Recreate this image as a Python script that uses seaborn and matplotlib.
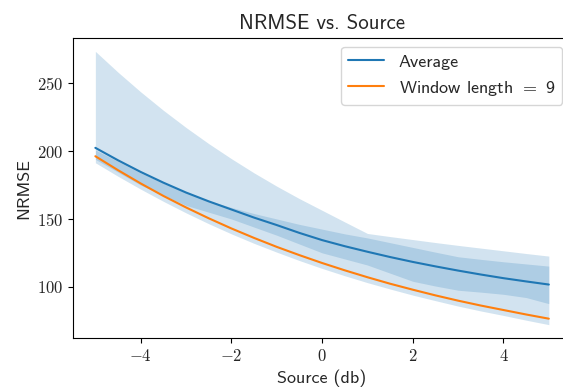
import matplotlib
matplotlib.use("Agg")
import matplotlib.pyplot as plt
import seaborn as sns
import pandas as pd
from matplotlib.ticker import FuncFormatter

# ---- data ----
source_db = [-5, -4.5, -4, -3.5, -3, -2.5, -2, -1.5, -1, -0.5, 0,
             0.5, 1, 1.5, 2, 2.5, 3, 3.5, 4, 4.5, 5]
average = [202.5, 193.3, 184.7, 176.8, 169.5, 163.0, 157.0, 151.0, 145.5, 139.7, 134.4,
           129.9, 125.8, 121.9, 118.3, 115.0, 111.9, 109.0, 106.3, 103.9, 101.6]
window9 = [196.3, 186.0, 176.2, 167.0, 158.5, 150.5, 143.0, 136.0, 129.4, 123.3, 117.5,
           112.1, 107.0, 102.2, 97.8, 93.6, 89.7, 86.1, 82.8, 79.5, 76.4]
outer_hi = [273.7, 258.3, 243.8, 230.2, 217.5, 205.6, 194.5, 184.0, 174.2, 165.0, 156.4,
            147.8, 139.3, 137.0, 134.8, 132.6, 130.5, 128.5, 126.5, 124.5, 122.6]
outer_lo = [191.5, 181.5, 172.0, 163.0, 154.5, 146.5, 139.0, 132.0, 125.5, 119.3, 113.5,
            108.1, 103.0, 98.3, 93.8, 89.7, 85.7, 82.1, 78.8, 75.3, 72.0]
inner_hi = [201.0, 192.5, 184.0, 176.5, 169.5, 163.5, 158.5, 154.0, 150.0, 146.0, 142.5,
            139.0, 136.0, 132.5, 129.0, 125.5, 122.1, 120.2, 118.4, 116.8, 115.2]
inner_lo = [194.0, 184.5, 175.0, 167.5, 160.0, 155.0, 150.0, 144.0, 138.0, 131.5, 125.0,
            120.5, 116.0, 110.0, 104.0, 100.5, 97.4, 96.0, 94.4, 92.0, 87.5]
series_labels = ["Average", r"Window length $=$ 9"]

sns.set_style("ticks")
plt.rcParams["font.family"] = ["cmss10", "DejaVu Sans"]
plt.rcParams["mathtext.fontset"] = "cm"
plt.rcParams["axes.unicode_minus"] = True

fig = plt.figure(figsize=(5.63, 3.87), dpi=100)
ax = fig.add_axes([0.1291, 0.1258, 0.886, 0.7768])

blue = "#1f77b4"
orange = "#ff7f0e"

ax.fill_between(source_db, outer_lo, outer_hi, color=blue, alpha=0.2, linewidth=0)
ax.fill_between(source_db, inner_lo, inner_hi, color=blue, alpha=0.2, linewidth=0)

df_avg = pd.DataFrame({"x": source_db, "y": average})
df_win = pd.DataFrame({"x": source_db, "y": window9})
sns.lineplot(data=df_avg, x="x", y="y", color=blue, label=series_labels[0], ax=ax, linewidth=1.5)
sns.lineplot(data=df_win, x="x", y="y", color=orange, label=series_labels[1], ax=ax, linewidth=1.5)

ax.set_xticks([-4, -2, 0, 2, 4])
ax.set_yticks([100, 150, 200, 250])
fmt = FuncFormatter(lambda v, p: r"$%g$" % v)
ax.xaxis.set_major_formatter(fmt)
ax.yaxis.set_major_formatter(fmt)
ax.tick_params(labelsize=12, direction="out", length=3.5, width=0.8, color="black")
for s in ax.spines.values():
    s.set_visible(True)
    s.set_color("black")
    s.set_linewidth(0.8)

ax.set_title("NRMSE vs. Source", fontsize=15)
ax.set_xlabel("Source (db)", fontsize=13)
ax.set_ylabel("NRMSE", fontsize=13)
ax.legend(loc="upper right", fontsize=13)

fig.savefig("out.png", dpi=100)
